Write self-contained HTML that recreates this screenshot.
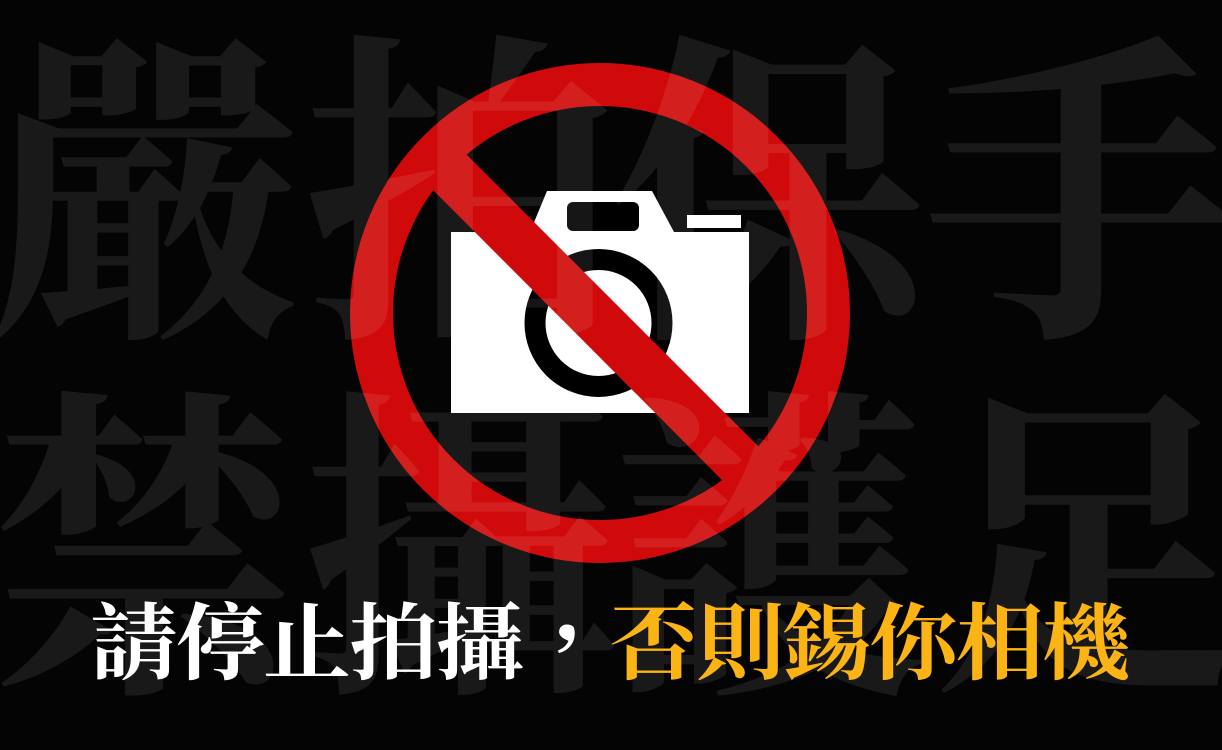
<!DOCTYPE html>
<html lang="zh-Hant">
<head>
<meta charset="utf-8">
<title>請停止拍攝</title>
<style>
html,body{margin:0;padding:0;background:#040404;}
#poster{position:relative;width:1222px;height:750px;overflow:hidden;background:#040404;font-family:"Liberation Serif","Noto Serif CJK TC","Noto Serif CJK SC",serif;}
#poster svg{position:absolute;left:0;top:0;}
.bg{position:absolute;font-size:325px;line-height:325px;width:325px;text-align:center;font-weight:700;color:rgba(255,255,255,0.085);transform:scaleX(.97);transform-origin:0 0;}
.cap{position:absolute;top:602px;font-size:88px;line-height:88px;font-weight:700;white-space:nowrap;letter-spacing:-1.5px;transform:scaleY(.95);transform-origin:0 50%;}
</style>
</head>
<body>
<div id="poster">
<svg width="1222" height="750" viewBox="0 0 1222 750">
  <g>
    <path d="M451 232H530L547 191H652L674 232H749V413H451Z" fill="#fff"/>
    <rect x="567" y="202" width="72" height="29" rx="6" fill="#000"/>
    <rect x="687" y="215" width="54" height="13" fill="#fff"/>
    <circle cx="598.500" cy="323" r="63.500" fill="#fff" stroke="#000" stroke-width="21"/>
  </g>
  <circle cx="600" cy="313" r="228.500" fill="none" stroke="#d00a0a" stroke-width="43"/>
  <polygon points="456,144 422,179 733,491 768,456" fill="#d00a0a"/>
</svg>
<div class="bg" style="left:-14px;top:40px">嚴</div>
<div class="bg" style="left:303px;top:40px">拍</div>
<div class="bg" style="left:612px;top:40px">保</div>
<div class="bg" style="left:922px;top:40px">手</div>
<div class="bg" style="left:-14px;top:396px">禁</div>
<div class="bg" style="left:303px;top:396px">攝</div>
<div class="bg" style="left:612px;top:396px">護</div>
<div class="bg" style="left:930px;top:393px">足</div>
<div class="cap" style="left:90px;color:#fff">請停止拍攝，</div>
<div class="cap" style="left:610px;color:#fcb415">否則錫你相機</div>
</div>
</body>
</html>
